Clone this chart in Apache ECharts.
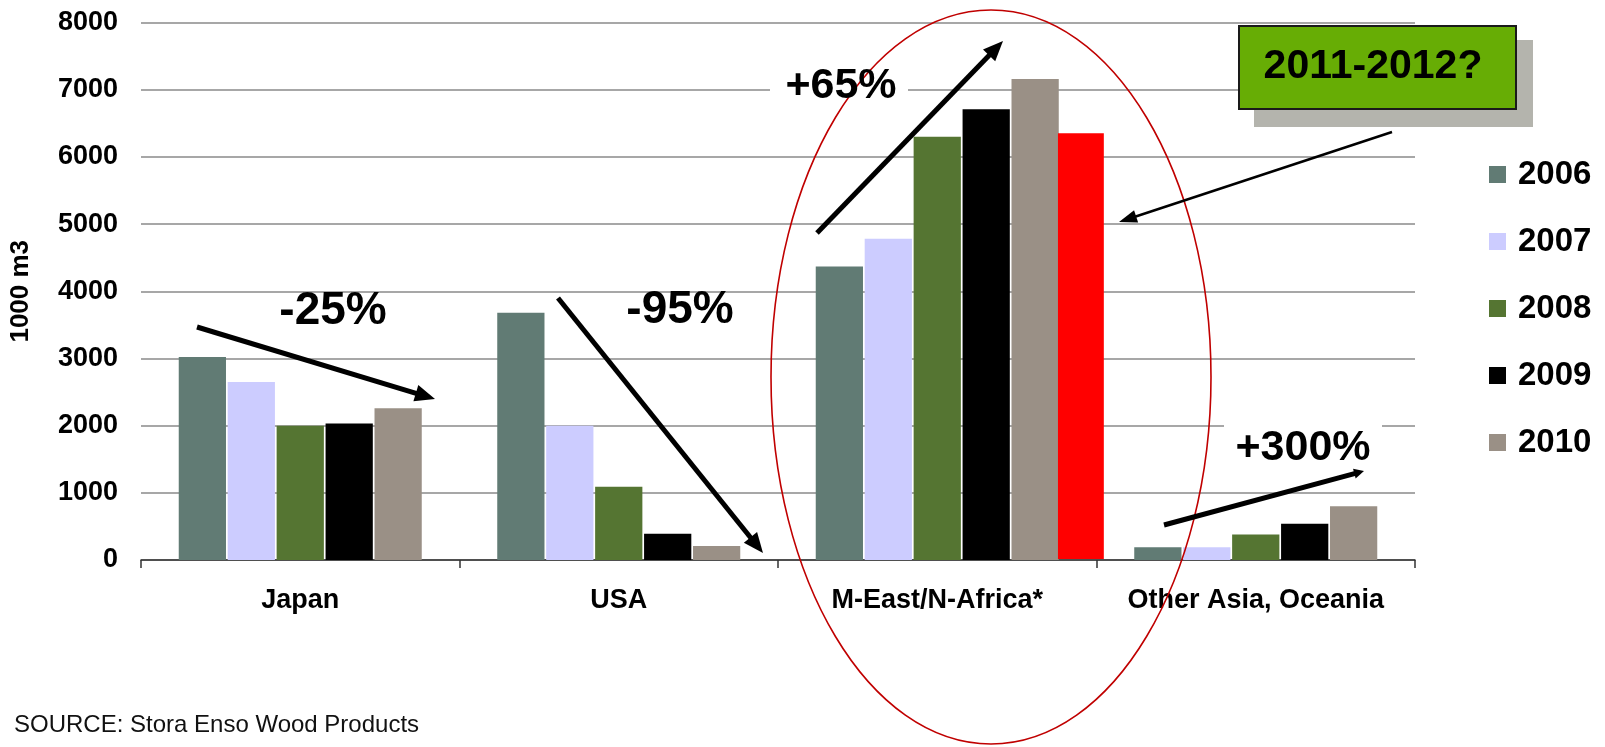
<!DOCTYPE html>
<html>
<head>
<meta charset="utf-8">
<script src="https://cdn.jsdelivr.net/npm/echarts@6/dist/echarts.min.js"></script>
<style>
html,body{margin:0;padding:0;background:#fff;}
#chart{width:1605px;height:747px;}
</style>
</head>
<body>
<div id="chart"></div>
<script>
var categories = ['Japan', 'USA', 'M-East/N-Africa*', 'Other Asia, Oceania'];
var years = ['2006', '2007', '2008', '2009', '2010'];
var v2006 = [3020, 3680, 4370, 190];
var v2007 = [2650, 2000, 4780, 190];
var v2008 = [2000, 1090, 6300, 380];
var v2009 = [2030, 390, 6710, 540];
var v2010 = [2260, 210, 7160, 800];
var forecastCategory = 'M-East/N-Africa*';
var forecastValue = 6350;
var yTicks = [0, 1000, 2000, 3000, 4000, 5000, 6000, 7000, 8000];

var colors = ['#617B74', '#CCCCFF', '#557532', '#000000', '#9A9086'];
var FONT = '"Liberation Sans", Arial, sans-serif';
var values = [v2006, v2007, v2008, v2009, v2010];

var chart = echarts.init(document.getElementById('chart'), null, {renderer: 'canvas'});

function arrow(x1, y1, x2, y2, lw, hl, hw) {
  var dx = x2 - x1, dy = y2 - y1, len = Math.sqrt(dx * dx + dy * dy);
  var ux = dx / len, uy = dy / len, px = -uy, py = ux;
  var bx = x2 - ux * hl, by = y2 - uy * hl;
  return [
    {type: 'line', z: 100, shape: {x1: x1, y1: y1, x2: bx + ux * 2, y2: by + uy * 2},
     style: {stroke: '#000', lineWidth: lw}},
    {type: 'polygon', z: 100, shape: {points: [[x2, y2], [bx + px * hw / 2, by + py * hw / 2], [bx - px * hw / 2, by - py * hw / 2]]},
     style: {fill: '#000'}}
  ];
}

var graphics = [];
// white strips behind some labels
graphics.push({type: 'rect', z: 90, shape: {x: 770, y: 70, width: 138, height: 34}, style: {fill: '#fff'}});
graphics.push({type: 'rect', z: 90, shape: {x: 1224, y: 420, width: 158, height: 44}, style: {fill: '#fff'}});
// ellipse
graphics.push({type: 'ellipse', z: 95, shape: {cx: 991, cy: 377, rx: 220, ry: 367}, style: {fill: null, stroke: '#C00000', lineWidth: 1.6}});
// arrows
graphics = graphics.concat(arrow(197, 327, 435, 399, 5, 20, 17));
graphics = graphics.concat(arrow(558, 298, 763, 553, 5, 20, 17));
graphics = graphics.concat(arrow(817, 233, 1003, 41, 5, 20, 17));
graphics = graphics.concat(arrow(1164, 525, 1364, 471, 5, 10, 10));
graphics = graphics.concat(arrow(1392, 132, 1119, 222, 2.5, 18, 13));
// percentage labels
function label(t, cx, cy, size) {
  return {type: 'text', z: 110, x: cx, y: cy,
    style: {text: t, font: 'bold ' + size + 'px ' + FONT, fill: '#000', textAlign: 'center', textVerticalAlign: 'middle'}};
}
graphics.push(label('-25%', 333, 311, 46));
graphics.push(label('-95%', 680, 310, 46));
graphics.push(label('+65%', 841, 86, 43));
graphics.push(label('+300%', 1303, 448, 43));
// box
graphics.push({type: 'rect', z: 100, shape: {x: 1254, y: 40, width: 279, height: 87}, style: {fill: '#B4B4AD'}});
graphics.push({type: 'rect', z: 101, shape: {x: 1239, y: 26, width: 277, height: 83}, style: {fill: '#67AD05', stroke: '#1a1a1a', lineWidth: 2}});
graphics.push(label('2011-2012?', 1373, 67, 41));
graphics[graphics.length - 1].z = 102;
// source
graphics.push({type: 'text', z: 110, x: 14, y: 725,
  style: {text: 'SOURCE: Stora Enso Wood Products', font: '24px ' + FONT, fill: '#111', textAlign: 'left', textVerticalAlign: 'middle'}});

var series = years.map(function (y, i) {
  return {
    name: y, type: 'bar', data: values[i],
    barGap: '3.6%', barCategoryGap: '23.7%',
    itemStyle: {color: colors[i]}
  };
});
series.push({
  name: 'forecast', type: 'custom',
  data: [[categories.indexOf(forecastCategory), forecastValue]],
  encode: {x: 0, y: 1},
  z: 5,
  renderItem: function (params, api) {
    var idx = api.value(0), v = api.value(1);
    var top = api.coord([idx, v]);
    var base = api.coord([idx, 0]);
    var cw = api.size([1, 0])[0];
    return {type: 'rect', shape: {x: top[0] + 0.379 * cw, y: top[1], width: 0.144 * cw, height: base[1] - top[1] - 1},
      style: {fill: '#FF0000'}};
  }
});

chart.setOption({
  animation: false,
  backgroundColor: '#fff',
  grid: {left: 140, right: 190, top: 22.5, bottom: 187, containLabel: false},
  legend: {
    data: years, orient: 'vertical', left: 1484, top: 153, itemGap: 34,
    itemWidth: 17, itemHeight: 17, icon: 'rect',
    textStyle: {fontSize: 33, fontWeight: 'bold', fontFamily: FONT, color: '#000', padding: [0, 0, 0, 7]}
  },
  xAxis: {
    type: 'category', data: categories,
    axisLine: {lineStyle: {color: '#333', width: 1.5}},
    axisTick: {show: true, length: 8, lineStyle: {color: '#333', width: 1.5}},
    axisLabel: {fontSize: 27, fontWeight: 'bold', fontFamily: FONT, color: '#000', margin: 27, interval: 0}
  },
  yAxis: {
    type: 'value', min: yTicks[0], max: yTicks[yTicks.length - 1], interval: yTicks[1] - yTicks[0],
    name: '1000 m3', nameLocation: 'middle', nameGap: 107,
    nameTextStyle: {fontSize: 26, fontWeight: 'bold', fontFamily: FONT, color: '#000'},
    axisLine: {show: false}, axisTick: {show: false},
    axisLabel: {fontSize: 27, fontWeight: 'bold', fontFamily: FONT, color: '#000', margin: 23,
      formatter: function (v) { return String(v); }},
    splitLine: {lineStyle: {color: '#8a8a8a', width: 1.5}}
  },
  graphic: graphics,
  series: series
});
</script>
</body>
</html>
